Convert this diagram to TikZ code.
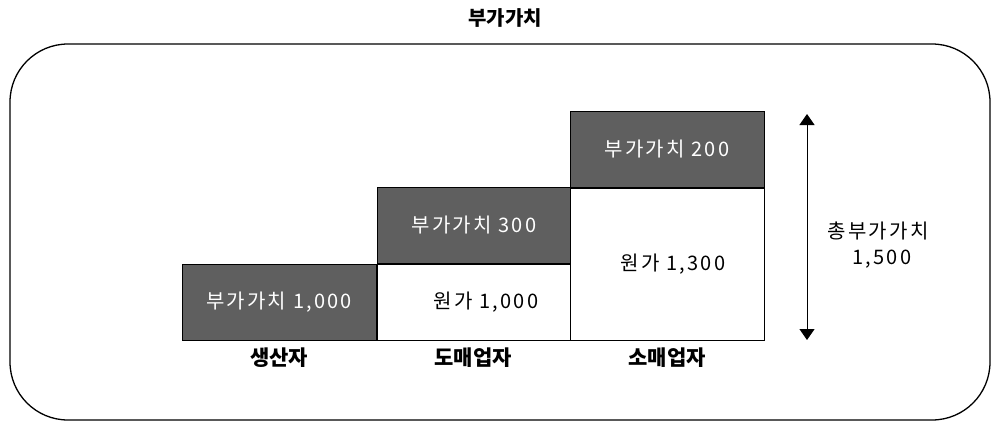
\documentclass[tikz,border=0pt]{standalone}
\usepackage{fontspec}
\usepackage{tikz}
\usetikzlibrary{arrows.meta,positioning}
\newfontfamily\kr{Noto Sans CJK KR}
\newfontfamily\krwide[LetterSpace=11]{Noto Sans CJK KR}
\definecolor{addgray}{HTML}{5F5F5F}

\tikzset{
  valbox/.style={draw, line width=1pt, fill=addgray, text=white, minimum width=194pt, minimum height=76pt, inner sep=0pt, font=\krwide\fontsize{20}{24}\selectfont},
  costbox/.style={draw, line width=1pt, fill=white, minimum width=194pt, minimum height=76pt, inner sep=0pt, font=\krwide\fontsize{20}{24}\selectfont},
  firm/.style={font=\kr\bfseries\fontsize{21}{24}\selectfont}
}

\begin{document}
\begin{tikzpicture}[x=1pt,y=-1pt,>={Triangle[width=15pt,length=11pt]}]
  \useasboundingbox (0,0) rectangle (1008,434);
  % outer frame and title
  \draw[line width=1.3pt, rounded corners=58pt] (10,44) rectangle (990,420);
  \node[firm, font=\kr\bfseries\fontsize{20}{24}\selectfont] (title) at (505,18) {부가가치};

  % producer
  \node[valbox] (p1) at (279,302) {부가가치 1,000};
  % wholesaler
  \node[costbox] (w0) [right=0pt of p1] {\hspace{1.2em}원가 1,000};
  \node[valbox]  (w1) [above=0pt of w0] {부가가치 300};
  % retailer
  \node[costbox, minimum height=152pt] (r0) at (667,264) {\hspace{0.6em}원가 1,300};
  \node[valbox]  (r1) [above=0pt of r0] {부가가치 200};

  % names below
  \node[firm] (n1) at (279,358) {생산자};
  \node[firm] (n2) at (473,358) {도매업자};
  \node[firm] (n3) at (667,358) {소매업자};

  % total
  \coordinate (top) at (807,114);
  \coordinate (bot) at (807,340);
  \draw[<->, line width=1pt] (top) -- (bot);
  \node[font=\krwide\fontsize{20}{26}\selectfont, align=center] (tot) at (878,245) {총부가가치\\\hspace{0.4em}1,500};
\end{tikzpicture}
\end{document}
